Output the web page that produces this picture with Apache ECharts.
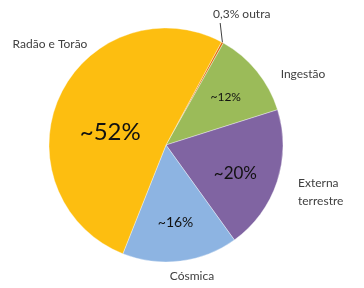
<!DOCTYPE html>
<html>
<head>
<meta charset="utf-8">
<script src="https://cdn.jsdelivr.net/npm/echarts@6/dist/echarts.min.js"></script>
<style>html,body{margin:0;padding:0;background:#fff}#c{width:364px;height:288px}</style>
</head>
<body>
<div id="c"></div>
<script>
const categories = ['0,3% outra', 'Ingestão', 'Externa\nterrestre', 'Cósmica', 'Radão e Torão'];
const values = [0.3, 12, 20, 16, 52];
const innerLabels = ['', '~12%', '~20%', '~16%', '~52%'];
const colors = ['#E46C0A', '#9BBB59', '#8064A2', '#8DB4E2', '#FDBE10'];

const innerFont = [10, 12, 17, 14, 24];
const innerShift = [[0, 0], [12, -9], [11, 9], [2, 16], [0, 13]];
const outerPos = [[170, 14, 'left', 43], [303, 74, 'center', 0], [298, 192, 'left', 0], [192, 276, 'center', 0], [50, 44, 'center', 0]];

const chart = echarts.init(document.getElementById('c'));
const common = {
  type: 'pie',
  center: [166, 145],
  radius: 117,
  startAngle: 61.7,
  clockwise: true,
  animation: false,
  avoidLabelOverlap: false
};
chart.setOption({
  backgroundColor: '#fff',
  series: [
    Object.assign({}, common, {
      itemStyle: { borderColor: 'rgba(255,255,255,0.6)', borderWidth: 0.6 },
      label: {
        position: 'inside',
        fontFamily: 'Lato',
        color: '#111',
        formatter: p => innerLabels[p.dataIndex]
      },
      labelLine: { show: false },
      labelLayout: p => ({ dx: innerShift[p.dataIndex][0], dy: innerShift[p.dataIndex][1] }),
      data: categories.map((n, i) => ({
        name: n, value: values[i],
        itemStyle: { color: colors[i] },
        label: { fontSize: innerFont[i] }
      }))
    }),
    Object.assign({}, common, {
      silent: true,
      itemStyle: { color: 'rgba(0,0,0,0)' },
      label: {
        position: 'outside',
        fontFamily: 'Lato',
        fontSize: 12,
        lineHeight: 18,
        color: '#404040',
        formatter: '{b}'
      },
      labelLine: { show: false, length: 10, length2: 0, lineStyle: { color: '#404040', width: 1 } },
      labelLayout: p => {
        const o = outerPos[p.dataIndex];
        return { x: o[0], y: o[1], align: o[2], verticalAlign: 'middle' };
      },
      data: categories.map((n, i) => ({
        name: n, value: values[i],
        label: { align: outerPos[i][2], padding: [0, 0, 0, outerPos[i][3]] },
        labelLine: { show: i === 0 }
      }))
    })
  ]
});
</script>
</body>
</html>
